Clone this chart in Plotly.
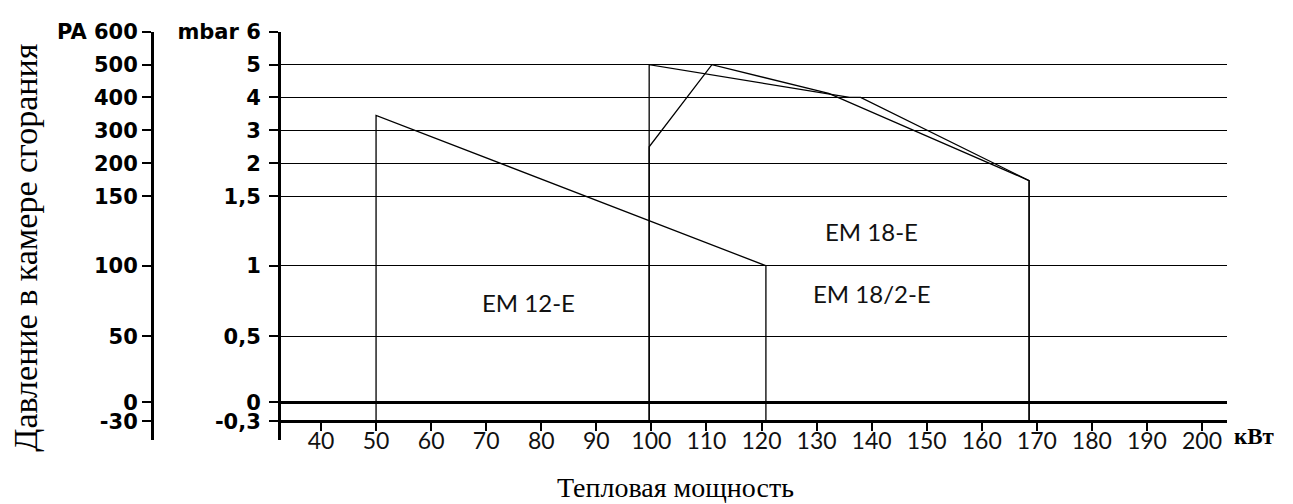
import numpy as np
import plotly.graph_objects as go

# ---- axis ticks ----
MBAR_TICKS = [-0.3, 0, 0.5, 1, 1.5, 2, 3, 4, 5, 6]
MBAR_LABELS = ["-0,3", "0", "0,5", "1", "1,5", "2", "3", "4", "5", "mbar 6"]
PA_LABELS = ["-30", "0", "50", "100", "150", "200", "300", "400", "500", "PA 600"]
KW_TICKS = [40, 50, 60, 70, 80, 90, 100, 110, 120, 130, 140, 150, 160, 170, 180, 190, 200]

# non-uniform vertical scale of the original chart (relative position of each mbar tick)
SCALE_POS = [-19.3, 0, 67.4, 139.4, 210.0, 243.7, 277.6, 311.0, 344.4, 377.7]

# ---- series (kW, mbar) ----
EM12_KW = [50, 50, 120.8, 120.8]
EM12_MBAR = [-0.3, 3.45, 1.0, -0.3]

EM182_KW = [99.6, 99.6, 136.0, 138.0, 168.6, 168.6]
EM182_MBAR = [-0.3, 5.0, 4.0, 4.0, 1.74, -0.3]

EM18_KW = [99.6, 99.6, 111.0, 132.2, 168.6, 168.6]
EM18_MBAR = [-0.3, 2.5, 5.0, 4.12, 1.74, -0.3]

LABELS = ["EM 12-E", "EM 18-E", "EM 18/2-E"]
LABEL_KW = [77.6, 140.0, 140.0]
LABEL_MBAR = [0.74, 1.25, 0.80]


def scale(v):
    return np.interp(v, MBAR_TICKS, SCALE_POS)


OFF = 8  # page body margin
W, H = 1293 - OFF, 504 - OFF
# target page pixel positions
PA_AXIS_X, MBAR_AXIS_X, RIGHT_X, TOP_Y, BOTTOM_Y = 152, 281, 1227, 24, 440
ML, MT = PA_AXIS_X - OFF, TOP_Y - OFF
MR, MB = 1293 - RIGHT_X, 504 - BOTTOM_Y
PW, PH = W - ML - MR, H - MT - MB
Y_RANGE = [-38.3, 377.7]
X_DOMAIN0 = (MBAR_AXIS_X - PA_AXIS_X) / PW
pxu = (1202 - 321) / 160.0  # px per kW (40 kW at 321, 200 kW at 1202)
X_RANGE = [40 - (321 - MBAR_AXIS_X) / pxu, 40 + (RIGHT_X - 321) / pxu]
X_AXIS_POS = (scale(-0.3) - Y_RANGE[0]) / (Y_RANGE[1] - Y_RANGE[0])


def px(xp, yp):
    return (xp - PA_AXIS_X) / PW, (BOTTOM_Y - yp) / PH


fig = go.Figure()
line = dict(color="black", width=1.3)
for xs, ys in [(EM12_KW, EM12_MBAR), (EM182_KW, EM182_MBAR), (EM18_KW, EM18_MBAR)]:
    fig.add_trace(go.Scatter(x=xs, y=scale(ys), mode="lines", line=line,
                             showlegend=False, hoverinfo="skip"))
fig.add_trace(go.Scatter(x=[None], y=[None], yaxis="y2", showlegend=False))

for t, x, y in zip(LABELS, LABEL_KW, scale(LABEL_MBAR)):
    fig.add_annotation(x=x, y=y, text=t, showarrow=False,
                       font=dict(family="Lato", size=24, color="#111"))

tick_font_b = dict(family="DejaVu Sans", size=21, color="black", weight="bold")
common_y = dict(range=Y_RANGE, tickmode="array", tickvals=list(scale(MBAR_TICKS)),
                showline=True, linewidth=3, linecolor="black",
                ticks="outside", ticklen=9, tickwidth=2, tickcolor="black",
                tickfont=tick_font_b, fixedrange=True)

fig.update_layout(
    width=W, height=H,
    margin=dict(l=ML, r=MR, t=MT, b=MB),
    paper_bgcolor="white", plot_bgcolor="white",
    xaxis=dict(domain=[X_DOMAIN0, 1], range=X_RANGE, anchor="free", position=X_AXIS_POS,
               tickmode="array", tickvals=KW_TICKS, showgrid=False, zeroline=False,
               showline=True, linewidth=3, linecolor="black",
               ticks="outside", ticklen=8, tickwidth=2, tickcolor="black",
               ticklabelstandoff=-10,
               tickfont=dict(family="Lato", size=23, color="#111")),
    yaxis=dict(**common_y, ticktext=MBAR_LABELS, showgrid=True, gridcolor="black",
               gridwidth=1.3, zeroline=True, zerolinecolor="black", zerolinewidth=3,
               ticklabelstandoff=4),
    yaxis2=dict(**common_y, ticktext=PA_LABELS, overlaying="y", anchor="free",
                position=0, side="left", showgrid=False, zeroline=False,
                ticklabelstandoff=0),
)

x, y = px(1254, 436)
fig.add_annotation(xref="paper", yref="paper", x=x, y=y, xanchor="center", yanchor="middle",
                   text="<b>кВт</b>", showarrow=False,
                   font=dict(family="Liberation Serif", size=23, color="black"))
x, y = px(675, 488)
fig.add_annotation(xref="paper", yref="paper", x=x, y=y, xanchor="center", yanchor="middle",
                   text="Тепловая мощность", showarrow=False,
                   font=dict(family="Liberation Serif", size=28, color="black"))
x, y = px(26, 244)
fig.add_annotation(xref="paper", yref="paper", x=x, y=y, xanchor="center", yanchor="middle",
                   text="Давление в камере сгорания", showarrow=False, textangle=-90,
                   font=dict(family="Liberation Serif", size=34, color="black"))

fig.write_html("out.html")
